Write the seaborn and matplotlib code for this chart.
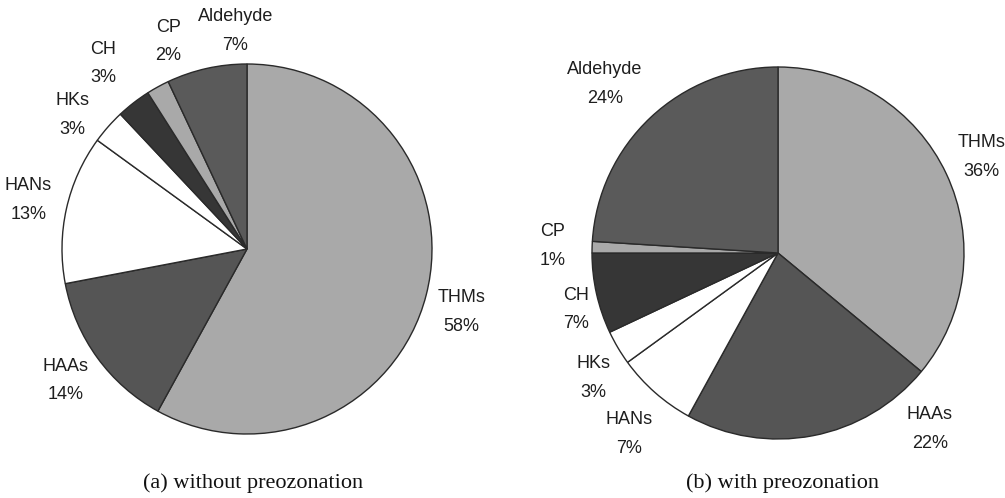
import numpy as np
import seaborn as sns
import matplotlib.pyplot as plt

## data
labels = ["THMs", "HAAs", "HANs", "HKs", "CH", "CP", "Aldehyde"]
without_ozone = [58, 14, 13, 3, 3, 2, 7]
with_ozone = [36, 22, 7, 3, 7, 1, 24]
captions = ["(a) without preozonation", "(b) with preozonation"]

## fill colours per class (print greys)
fills = ["#a9a9a9", "#555555", "#ffffff", "#ffffff", "#363636", "#a9a9a9", "#5a5a5a"]

sns.set_theme(style="white")
plt.rcParams['font.family'] = ['Liberation Sans', 'DejaVu Sans']

fig = plt.figure(figsize=(10.05, 4.98), dpi=100)
ax = fig.add_axes([0, 0, 1, 1])

# pie layout in figure pixels (y measured from bottom)
pies = [
    dict(values=without_ozone, center=(247, 249), radius=185, caption_x=253,
         nudge={"THMs": (-2, 1.21), "HKs": (4, 1.19), "CH": (0, 1.27),
                "CP": (-8, 1.2), "Aldehyde": (-9.5, 1.18)}),
    dict(values=with_ozone, center=(778, 245), radius=186, caption_x=782,
         nudge={"HAAs": (30, 1.25), "HANs": (2, 1.26), "HKs": (3.5, 1.2),
                "CH": (3, 1.13), "Aldehyde": (2.5, 1.3)}),
]

for p in pies:
    wedges, texts = ax.pie(
        p["values"], labels=labels, colors=fills, startangle=90, counterclock=False,
        center=p["center"], radius=p["radius"],
        wedgeprops=dict(edgecolor="#2a2a2a", linewidth=1.0),
        textprops=dict(fontsize=13, color="#1e1e1e"),
    )
    cx, cy = p["center"]
    for w, t, val in zip(wedges, texts, p["values"]):
        name = t.get_text()
        shift, dist = p["nudge"].get(name, (0, 1.21))
        ang = np.deg2rad((w.theta1 + w.theta2) / 2 + shift)
        t.set_position((cx + p["radius"] * dist * np.cos(ang),
                        cy + p["radius"] * dist * np.sin(ang)))
        t.set_text(f"{name}\n{val}%")
        t.set_ha("center")
        t.set_va("center")
        t.set_linespacing(1.9)

for p, cap in zip(pies, captions):
    ax.text(p["caption_x"], 498 - 483, cap, ha="center", va="center",
            fontsize=16, family=["Liberation Serif", "DejaVu Serif"], color="#111111")

ax.set_xlim(0, 1005)
ax.set_ylim(0, 498)
ax.set_aspect("equal")
ax.axis("off")

fig.savefig("out.png", dpi=100)
